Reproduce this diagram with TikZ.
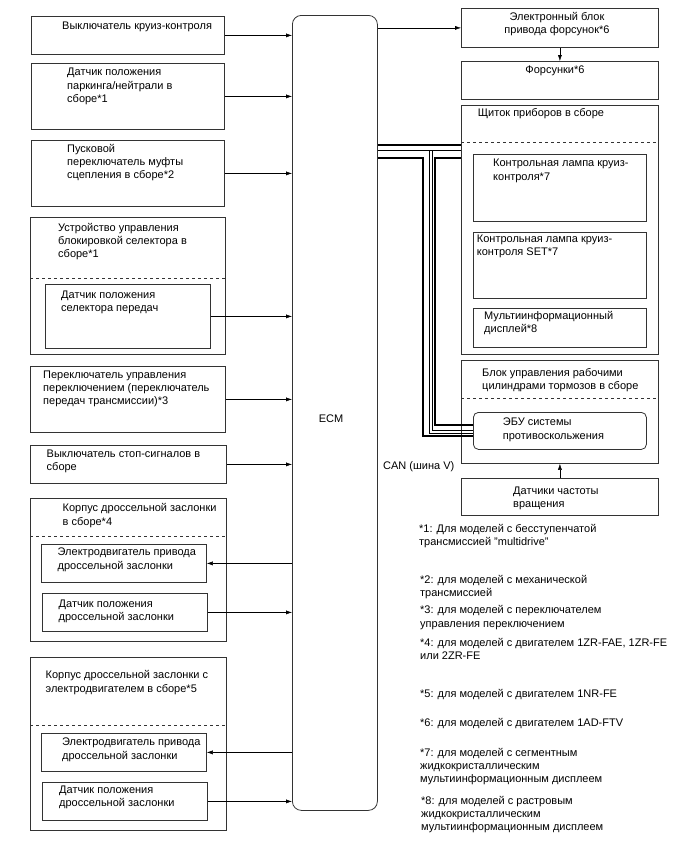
\documentclass[tikz,border=0pt]{standalone}
\usepackage{fontspec}
\setmainfont{Liberation Sans}
\usetikzlibrary{arrows.meta}

\tikzset{
  box/.style={draw=black!80, line width=0.8pt, anchor=north west, inner sep=0pt},
  txt/.style={anchor=north west, align=left, inner sep=0pt, font=\fontsize{11}{13.3}\selectfont},
  can/.style={line width=2.6pt},
  canthin/.style={line width=0.7pt}
}

\begin{document}
\begin{tikzpicture}[x=1pt, y=-1pt, >={Latex[length=6pt,width=4pt]}]
\useasboundingbox (0,0) rectangle (688,852);

% left column
\node[box, minimum width=193pt, minimum height=38pt] (cc) at (31,16) {};
\node[box, minimum width=193pt, minimum height=66pt] (pn) at (31,63) {};
\node[box, minimum width=193pt, minimum height=66pt] (cs) at (31,140) {};
\node[box, minimum width=195pt, minimum height=137pt] (sl) at (30,217) {};
\node[box, minimum width=165pt, minimum height=64pt] (sp) at (45,284) {};
\node[box, minimum width=195pt, minimum height=66pt] (ss) at (30,366) {};
\node[box, minimum width=196pt, minimum height=38pt] (st) at (30,445) {};
\node[box, minimum width=196pt, minimum height=143pt] (tb1) at (30,498) {};
\node[box, minimum width=165pt, minimum height=38pt] (tm1) at (41,544) {};
\node[box, minimum width=165pt, minimum height=38pt] (tp1) at (42,593) {};
\node[box, minimum width=196pt, minimum height=173pt] (tb2) at (30,657) {};
\node[box, minimum width=165pt, minimum height=38pt] (tm2) at (41,733) {};
\node[box, minimum width=165pt, minimum height=38pt] (tp2) at (42,782) {};
\draw[dashed, black!80] (sl.west |- 0,278) -- (sl.east |- 0,278);
\draw[dashed, black!80] (tb1.west |- 0,536) -- (tb1.east |- 0,536);
\draw[dashed, black!80] (tb2.west |- 0,725) -- (tb2.east |- 0,725);

\node[txt] (cct) at (62,22) {Выключатель круиз-контроля};
\node[txt] (pnt) at (67,68) {Датчик положения\\паркинга/нейтрали в\\сборе*1};
\node[txt] (cst) at (67,144) {Пусковой\\переключатель муфты\\сцепления в сборе*2};
\node[txt] (slt) at (58,223) {Устройство управления\\блокировкой селектора в\\сборе*1};
\node[txt] (spt) at (61,290.5) {Датчик положения\\селектора передач};
\node[txt] (sst) at (43,370.5) {Переключатель управления\\переключением (переключатель\\передач трансмиссии)*3};
\node[txt] (stt) at (46.5,449.5) {Выключатель стоп-сигналов в\\сборе};
\node[txt] (tb1t) at (62.5,503.5) {Корпус дроссельной заслонки\\в сборе*4};
\node[txt] (tm1t) at (57.5,548) {Электродвигатель привода\\дроссельной заслонки};
\node[txt] (tp1t) at (58.5,599.5) {Датчик положения\\дроссельной заслонки};
\node[txt] (tb2t) at (45.5,670.5) {Корпус дроссельной заслонки с\\электродвигателем в сборе*5};
\node[txt] (tm2t) at (62,738) {Электродвигатель привода\\дроссельной заслонки};
\node[txt] (tp2t) at (59,785.5) {Датчик положения\\дроссельной заслонки};

% ECM
\node[box, minimum width=85pt, minimum height=795pt, rounded corners=9pt] (ecm) at (292,15) {};
\node[txt, anchor=base] (ecmt) at (331,422.7) {ECM};

% right column
\node[box, minimum width=197pt, minimum height=39pt] (edu) at (461,8) {};
\node[box, minimum width=197pt, minimum height=38pt] (inj) at (461,61) {};
\node[box, minimum width=197pt, minimum height=249pt] (cl) at (461,105) {};
\node[box, minimum width=173pt, minimum height=67pt] (ci1) at (473,154) {};
\node[box, minimum width=173pt, minimum height=66pt] (ci2) at (473,232) {};
\node[box, minimum width=173pt, minimum height=39pt] (mid) at (473,308) {};
\node[box, minimum width=197pt, minimum height=103pt] (br) at (461,360) {};
\node[box, minimum width=173pt, minimum height=37pt, rounded corners=5pt] (abs) at (473,412) {};
\node[box, minimum width=197pt, minimum height=37pt] (spd) at (461,478) {};
\draw[dashed, black!80] (cl.west |- 0,142) -- (cl.east |- 0,142);
\draw[dashed, black!80] (br.west |- 0,398) -- (br.east |- 0,398);

\node[txt, anchor=north, align=center] (edut) at (557,12) {Электронный блок\\привода форсунок*6};
\node[txt, anchor=north] (injt) at (555,65.7) {Форсунки*6};
\node[txt] (clt) at (477.7,108) {Щиток приборов в сборе};
\node[txt] (ci1t) at (493,159) {Контрольная лампа круиз-\\контроля*7};
\node[txt] (ci2t) at (476.7,234.5) {Контрольная лампа круиз-\\контроля SET*7};
\node[txt] (midt) at (484,311) {Мультиинформационный\\дисплей*8};
\node[txt] (brt) at (482,368) {Блок управления рабочими\\цилиндрами тормозов в сборе};
\node[txt] (abst) at (502.7,418) {ЭБУ системы\\противоскольжения};
\node[txt] (spdt) at (513,486.5) {Датчики частоты\\вращения};
\node[txt, anchor=base west] (cant) at (383,469.3) {CAN (шина V)};

% footnotes
\node[txt] (f1) at (419,524) {*1: Для моделей с бесступенчатой\\трансмиссией "multidrive"};
\node[txt] (f2) at (420,575) {*2: для моделей с механической\\трансмиссией};
\node[txt] (f3) at (420,605.5) {*3: для моделей с переключателем\\управления переключением};
\node[txt] (f4) at (420,638) {*4: для моделей с двигателем 1ZR-FAE, 1ZR-FE\\или 2ZR-FE};
\node[txt] (f5) at (420,689) {*5: для моделей с двигателем 1NR-FE};
\node[txt] (f6) at (420,718.5) {*6: для моделей с двигателем 1AD-FTV};
\node[txt] (f7) at (420,748) {*7: для моделей с сегментным\\жидкокристаллическим\\мультиинформационным дисплеем};
\node[txt] (f8) at (421,796) {*8: для моделей с растровым\\жидкокристаллическим\\мультиинформационным дисплеем};

% signals
\draw[->] (cc.east) -- (cc.east -| ecm.west);
\draw[->] (pn.east) -- (pn.east -| ecm.west);
\draw[->] (cs.east) -- (cs.east -| ecm.west);
\draw[->] (sp.east) -- (sp.east -| ecm.west);
\draw[->] (ss.east) -- (ss.east -| ecm.west);
\draw[->] (st.east) -- (st.east -| ecm.west);
\draw[->] (tm1.east -| ecm.west) -- (tm1.east);
\draw[->] (tp1.east) -- (tp1.east -| ecm.west);
\draw[->] (tm2.east -| ecm.west) -- (tm2.east);
\draw[->] (tp2.east) -- (tp2.east -| ecm.west);
\draw[->] (edu.west -| ecm.east) -- (edu.west);
\draw[->] (edu) -- (inj);
\draw[->] (spd) -- (br);

% CAN bus
\draw[can] (ecm.east |- 0,145) -- (cl.west |- 0,145);
\draw[canthin] (ecm.east |- 0,150) -- (cl.west |- 0,150);
\draw[can] (ecm.east |- 0,158) -| (423,436) -- (abs.west |- 0,436);
\draw[can] (cl.west |- 0,158) -| (435,425) -- (abs.west |- 0,425);
\draw[canthin] (429,150) |- (abs.west |- 0,433);
\draw[canthin] (432,150) |- (abs.west |- 0,430);
\end{tikzpicture}
\end{document}
